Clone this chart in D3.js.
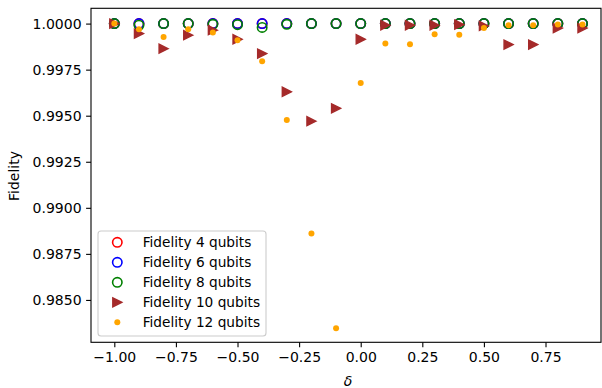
<!DOCTYPE html>
<html>
<head>
<meta charset="utf-8">
<script src="https://cdn.jsdelivr.net/npm/d3@7"></script>
<style>
  html, body { margin: 0; padding: 0; background: #fff; }
  svg { display: block; font-family: "DejaVu Sans", sans-serif; }
</style>
</head>
<body>
<svg id="chart" width="602" height="388"></svg>
<script>
// Detuning values δ
const delta = [-1.0, -0.9, -0.8, -0.7, -0.6, -0.5, -0.4, -0.3, -0.2, -0.1,
               0.0, 0.1, 0.2, 0.3, 0.4, 0.5, 0.6, 0.7, 0.8, 0.9];

// Fidelity per system size
const fid4  = [1.0, 1.0, 1.0, 1.0, 1.0, 1.0, 1.0, 1.0, 1.0, 1.0,
               1.0, 1.0, 1.0, 1.0, 1.0, 1.0, 1.0, 1.0, 1.0, 1.0];
const fid6  = [1.0, 1.0, 1.0, 1.0, 1.0, 1.0, 1.0, 1.0, 1.0, 1.0,
               1.0, 1.0, 1.0, 1.0, 1.0, 1.0, 1.0, 1.0, 1.0, 1.0];
const fid8  = [1.0, 0.99991, 1.0, 1.0, 0.99996, 0.99994, 0.99979, 0.99996, 1.0, 1.0,
               1.0, 1.0, 1.0, 1.0, 1.0, 1.0, 1.0, 1.0, 1.0, 1.0];
const fid10 = [1.0, 0.99946, 0.99864, 0.99937, 0.99964, 0.99915, 0.99837, 0.99630, 0.99470, 0.99540,
               0.99915, 0.99991, 0.99991, 0.99991, 0.99995, 0.99987, 0.99886, 0.99886, 0.99976, 0.99976];
const fid12 = [1.0, 0.99969, 0.99927, 0.99969, 0.99951, 0.99909, 0.99796, 0.99476, 0.98861, 0.98346,
               0.99678, 0.99892, 0.99888, 0.99942, 0.99940, 0.99976, 0.99991, 0.99991, 0.99995, 0.99995];

const yTicks = [0.9850, 0.9875, 0.9900, 0.9925, 0.9950, 0.9975, 1.0000];
const xTicks = [-1.00, -0.75, -0.50, -0.25, 0.00, 0.25, 0.50, 0.75];

const series = [
  { label: "Fidelity 4 qubits",  values: fid4,  color: "red",     kind: "open" },
  { label: "Fidelity 6 qubits",  values: fid6,  color: "blue",    kind: "open" },
  { label: "Fidelity 8 qubits",  values: fid8,  color: "green",   kind: "open" },
  { label: "Fidelity 10 qubits", values: fid10, color: "#a52a2a", kind: "tri" },
  { label: "Fidelity 12 qubits", values: fid12, color: "orange",  kind: "dot" }
];

const svg = d3.select("#chart");
const plotLeft = 91, plotRight = 601, plotTop = 8.3, plotBottom = 342.3;

const x = d3.scaleLinear().domain([-1.0946, 0.9752]).range([plotLeft, plotRight]);
const y = d3.scaleLinear().domain([0.98270, 1.00083]).range([plotBottom, plotTop]);

const fmtMinus = s => s.replace("-", "\u2212");

// Axes
const xAxis = d3.axisBottom(x).tickValues(xTicks).tickSize(4.9).tickPadding(4.5)
  .tickFormat(d => fmtMinus(d3.format(".2f")(d)));
const yAxis = d3.axisLeft(y).tickValues(yTicks).tickSize(4.9).tickPadding(4.5)
  .tickFormat(d => d3.format(".4f")(d));

const gx = svg.append("g").attr("transform", `translate(0,${plotBottom})`).call(xAxis);
const gy = svg.append("g").attr("transform", `translate(${plotLeft},0)`).call(yAxis);
[gx, gy].forEach(g => {
  g.select(".domain").remove();
  g.selectAll(".tick line").attr("stroke", "#000").attr("stroke-width", 1.1);
  g.selectAll(".tick text").attr("fill", "#000").style("font-size", "14px")
    .style("font-family", "'DejaVu Sans', sans-serif");
});

// Markers
const plot = svg.append("g");
const sizePx = 9;
const circleR = 4.7, circleW = 1.6;
series.forEach(s => {
  const pts = delta.map((d, i) => [d, s.values[i]]);
  const g = plot.append("g");
  if (s.kind === "open") {
    g.selectAll("circle").data(pts).join("circle")
      .attr("cx", d => x(d[0])).attr("cy", d => y(d[1]))
      .attr("r", circleR).attr("fill", "none")
      .attr("stroke", s.color).attr("stroke-width", circleW);
  } else if (s.kind === "tri") {
    const h = sizePx / 2;
    g.selectAll("path").data(pts).join("path")
      .attr("d", `M${h},0L${-h},${h}L${-h},${-h}Z`)
      .attr("transform", d => `translate(${x(d[0])},${y(d[1])})`)
      .attr("fill", s.color).attr("stroke", s.color).attr("stroke-width", 1.4)
      .attr("stroke-linejoin", "miter");
  } else {
    g.selectAll("circle").data(pts).join("circle")
      .attr("cx", d => x(d[0])).attr("cy", d => y(d[1]))
      .attr("r", 3).attr("fill", s.color);
  }
});

// Frame
svg.append("rect").attr("x", plotLeft).attr("y", plotTop)
  .attr("width", plotRight - plotLeft).attr("height", plotBottom - plotTop)
  .attr("fill", "none").attr("stroke", "#000").attr("stroke-width", 1.1);

// Axis titles
svg.append("text").attr("x", 348).attr("y", 386)
  .attr("text-anchor", "middle").style("font-size", "14px").style("font-style", "italic")
  .text("δ");
svg.append("text").attr("transform", "translate(18.5,176) rotate(-90)")
  .attr("text-anchor", "middle").style("font-size", "14px")
  .text("Fidelity");

// Legend
const lg = svg.append("g");
lg.append("rect").attr("x", 98).attr("y", 231).attr("width", 168).attr("height", 105)
  .attr("rx", 3).attr("fill", "#fff").attr("fill-opacity", 0.8)
  .attr("stroke", "#cccccc").attr("stroke-width", 1.1);
series.forEach((s, i) => {
  const cy = 242.3 + i * 20;
  const cx = 117.3;
  if (s.kind === "open") {
    lg.append("circle").attr("cx", cx).attr("cy", cy).attr("r", circleR)
      .attr("fill", "none").attr("stroke", s.color).attr("stroke-width", circleW);
  } else if (s.kind === "tri") {
    const h = sizePx / 2;
    lg.append("path").attr("d", `M${h},0L${-h},${h}L${-h},${-h}Z`)
      .attr("transform", `translate(${cx},${cy})`)
      .attr("fill", s.color).attr("stroke", s.color).attr("stroke-width", 1.4);
  } else {
    lg.append("circle").attr("cx", cx).attr("cy", cy).attr("r", 3).attr("fill", s.color);
  }
  lg.append("text").attr("x", 142.7).attr("y", cy).attr("dy", "0.36em")
    .style("font-size", "13.7px").attr("fill", "#000").text(s.label);
});
</script>
</body>
</html>
